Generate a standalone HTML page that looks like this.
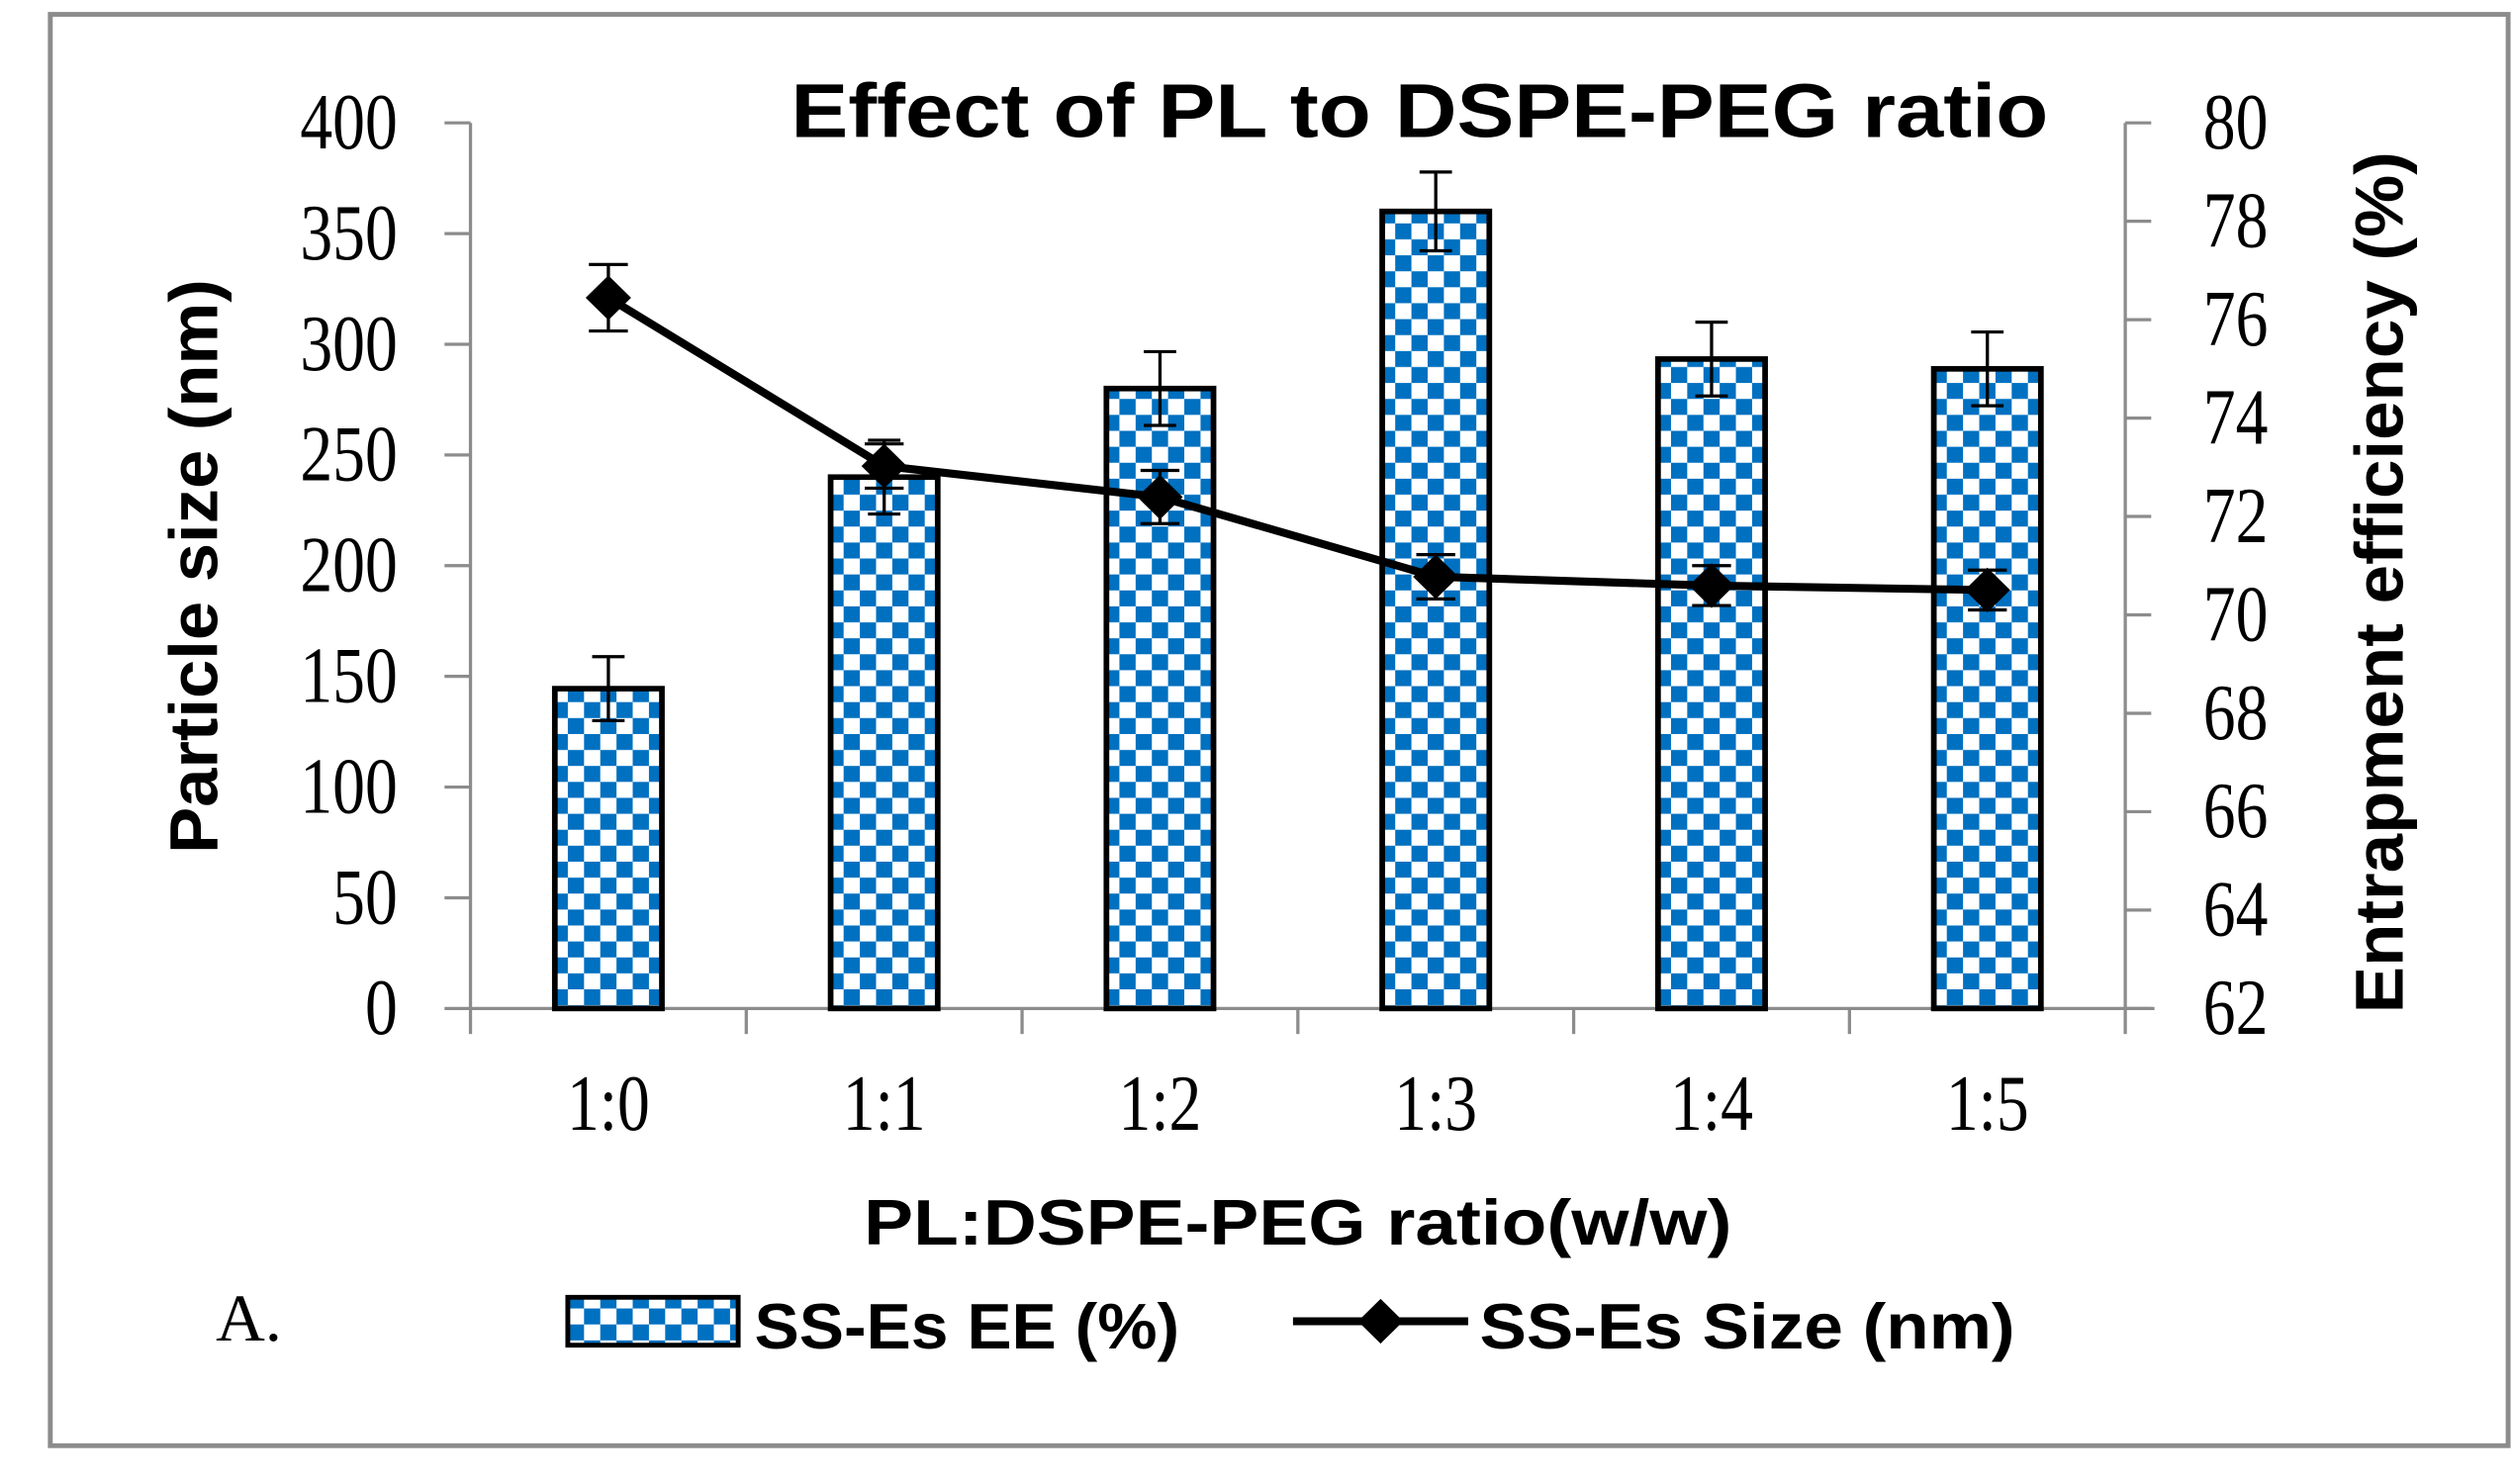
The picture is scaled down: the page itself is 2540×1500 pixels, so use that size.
<!DOCTYPE html>
<html><head><meta charset="utf-8"><style>
html,body{margin:0;padding:0;background:#fff;}
svg{display:block;}
</style></head><body>
<svg id="chart" width="2540" height="1500" viewBox="0 0 1549 930" preserveAspectRatio="none" xmlns="http://www.w3.org/2000/svg">
<defs>
<pattern id="chk" width="20" height="20" patternUnits="userSpaceOnUse">
<rect width="20" height="20" fill="#fff"/>
<rect width="10" height="10" fill="#0070C0"/>
<rect x="10" y="10" width="10" height="10" fill="#0070C0"/>
</pattern>
</defs>
<rect x="31" y="9" width="1515" height="897" fill="#fff" stroke="#8c8c8c" stroke-width="3"/>
<text x="875" y="86" text-anchor="middle" font-family="Liberation Sans, sans-serif" font-weight="bold" font-size="48" textLength="775" lengthAdjust="spacingAndGlyphs">Effect of PL to DSPE-PEG ratio</text>
<g id="axes"></g>
<g id="bars"></g>
<g id="line"></g>
<text transform="translate(134,355) rotate(-90)" text-anchor="middle" font-family="Liberation Sans, sans-serif" font-weight="bold" font-size="42" textLength="360" lengthAdjust="spacingAndGlyphs">Particle size (nm)</text>
<text transform="translate(1481,365) rotate(-90)" text-anchor="middle" font-family="Liberation Sans, sans-serif" font-weight="bold" font-size="42" textLength="540" lengthAdjust="spacingAndGlyphs">Entrapment efficiency (%)</text>
<text x="800" y="780" text-anchor="middle" font-family="Liberation Sans, sans-serif" font-weight="bold" font-size="40" textLength="535" lengthAdjust="spacingAndGlyphs">PL:DSPE-PEG ratio(w/w)</text>
<text x="133" y="840" font-family="Liberation Serif, serif" font-size="42">A.</text>
<g>
<rect x="350" y="813" width="105" height="30" fill="url(#chk)" stroke="#000" stroke-width="3"/>
<text x="465" y="845" font-family="Liberation Sans, sans-serif" font-weight="bold" font-size="40" textLength="262" lengthAdjust="spacingAndGlyphs">SS-Es EE (%)</text>
<line x1="797" y1="828" x2="905" y2="828" stroke="#000" stroke-width="5"/>
<path d="M851,814 L865,828 L851,842 L837,828 Z" fill="#000"/>
<text x="912" y="845" font-family="Liberation Sans, sans-serif" font-weight="bold" font-size="40" textLength="330" lengthAdjust="spacingAndGlyphs">SS-Es Size (nm)</text>
</g>
</svg>
<script>
const categories = ["1:0","1:1","1:2","1:3","1:4","1:5"];
const eeValues = [68.5, 72.8, 74.6, 78.2, 75.2, 75.0];
const eeErrors = [0.65, 0.75, 0.75, 0.8, 0.75, 0.75];
const sizeValues = [321, 245, 231, 195, 191, 189];
const sizeErrors = [15, 10, 12, 10, 9, 9];
const leftTicks = [0,50,100,150,200,250,300,350,400];
const rightTicks = [62,64,66,68,70,72,74,76,78,80];

const NS = "http://www.w3.org/2000/svg";
const X0 = 290, X1 = 1310, Y0 = 632, Y1 = 77;
const band = (X1 - X0) / categories.length;
const xC = i => X0 + band * (i + 0.5);
const yL = v => Y0 - (v - 0) / 400 * (Y0 - Y1);
const yR = v => Y0 - (v - 62) / 18 * (Y0 - Y1);
function mk(tag, attrs, parent) {
  const e = document.createElementNS(NS, tag);
  for (const k in attrs) e.setAttribute(k, attrs[k]);
  parent.appendChild(e);
  return e;
}
const axes = document.getElementById('axes');
const bars = document.getElementById('bars');
const lineG = document.getElementById('line');

let a = mk('line', {x1:X0, y1:Y1, x2:X0, y2:Y0, stroke:'#8c8c8c', 'stroke-width':2}, axes);


a = mk('line', {x1:X1, y1:Y1, x2:X1, y2:Y0, stroke:'#8c8c8c', 'stroke-width':2}, axes);


a = mk('line', {x1:X0, y1:Y0, x2:X1+18, y2:Y0, stroke:'#8c8c8c', 'stroke-width':2}, axes);



leftTicks.forEach(v => {
  const y = yL(v);
  mk('line', {x1:X0-16, y1:y, x2:X0, y2:y, stroke:'#8c8c8c', 'stroke-width':2}, axes);
  const t = mk('text', {transform:`translate(${X0-45},${y+16}) scale(0.8,1)`, 'text-anchor':'end', 'font-family':'Liberation Serif, serif', 'font-size':50}, axes);
  t.textContent = v;
  
  
});
rightTicks.forEach(v => {
  const y = yR(v);
  mk('line', {x1:X1, y1:y, x2:X1+16, y2:y, stroke:'#8c8c8c', 'stroke-width':2}, axes);
  const t = mk('text', {transform:`translate(${X1+48},${y+16}) scale(0.8,1)`, 'font-family':'Liberation Serif, serif', 'font-size':50}, axes);
  t.textContent = v;
  
  
});
for (let i = 0; i <= categories.length; i++) {
  const x = X0 + band * i;
  mk('line', {x1:x, y1:Y0, x2:x, y2:Y0+16, stroke:'#8c8c8c', 'stroke-width':2}, axes);
}
categories.forEach((c, i) => {
  const t = mk('text', {transform:`translate(${xC(i)},${708}) scale(0.8,1)`, 'text-anchor':'middle', 'font-family':'Liberation Serif, serif', 'font-size':50}, axes);
  t.textContent = c;
  
  
});

const bw = 66;
eeValues.forEach((v, i) => {
  const y = yR(v);
  const r = mk('rect', {x:xC(i)-bw/2, y:y, width:bw, height:Y0-y, fill:'url(#chk)', stroke:'#000', 'stroke-width':3.5}, bars);
  
  
  const e = eeErrors[i];
  const g = mk('g', {stroke:'#000', 'stroke-width':2}, bars);
  
  
  mk('line', {x1:xC(i), y1:yR(v+e), x2:xC(i), y2:yR(v-e)}, g);
  mk('line', {x1:xC(i)-10, y1:yR(v+e), x2:xC(i)+10, y2:yR(v+e)}, g);
  mk('line', {x1:xC(i)-10, y1:yR(v-e), x2:xC(i)+10, y2:yR(v-e)}, g);
});

const pts = sizeValues.map((v, i) => xC(i) + ',' + yL(v)).join(' ');
const pl = mk('polyline', {points:pts, fill:'none', stroke:'#000', 'stroke-width':5, 'stroke-linejoin':'round'}, lineG);


sizeValues.forEach((v, i) => {
  const x = xC(i), y = yL(v), e = sizeErrors[i];
  const g = mk('g', {stroke:'#000', 'stroke-width':2}, lineG);
  
  
  mk('line', {x1:x, y1:yL(v+e), x2:x, y2:yL(v-e)}, g);
  mk('line', {x1:x-12, y1:yL(v+e), x2:x+12, y2:yL(v+e)}, g);
  mk('line', {x1:x-12, y1:yL(v-e), x2:x+12, y2:yL(v-e)}, g);
  const m = mk('path', {d:`M${x},${y-14} L${x+14},${y} L${x},${y+14} L${x-14},${y} Z`, fill:'#000'}, lineG);
  
  
});
</script>
</body></html>
